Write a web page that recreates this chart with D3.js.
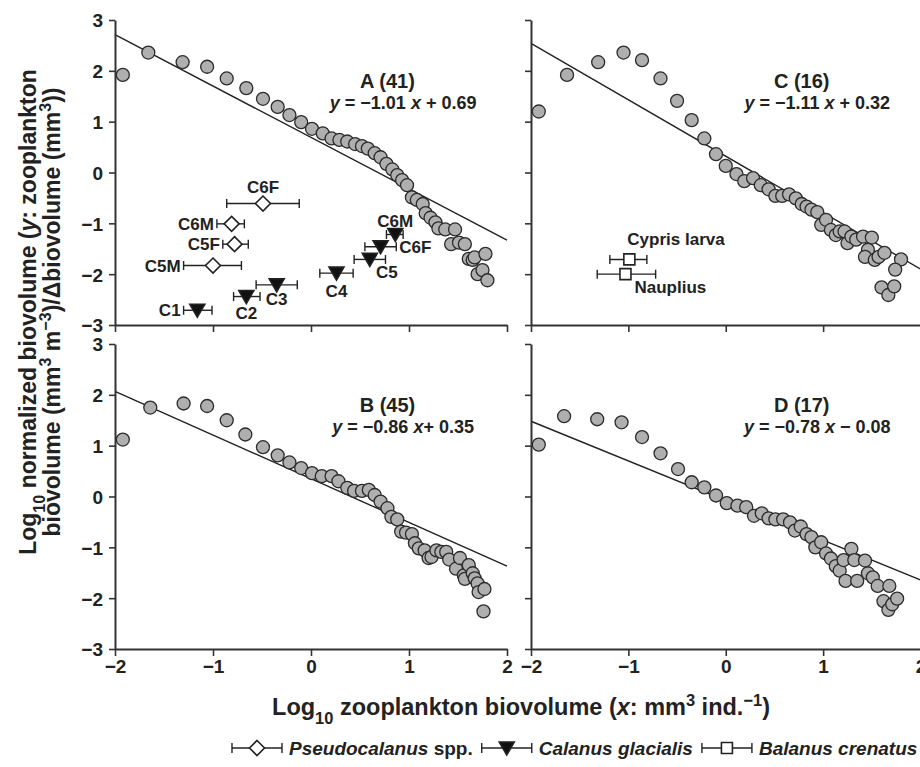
<!DOCTYPE html>
<html>
<head>
<meta charset="utf-8">
<script src="https://cdn.jsdelivr.net/npm/d3@7"></script>
<style>
  body { margin: 0; background: #fff; }
  svg { display: block; font-family: "Liberation Sans", Arial, sans-serif; font-weight: bold; }
</style>
</head>
<body>
<svg id="chart" width="920" height="767"></svg>
<script>
// tick values
const xTicks = [-2, -1, 0, 1, 2]
const yTicks = [-3, -2, -1, 0, 1, 2, 3]

// panel labels and fitted lines
const panelNames = ["A", "B", "C", "D"]
const panelCounts = [41, 45, 16, 17]
const slopes = [-1.01, -0.86, -1.11, -0.78]
const intercepts = [0.69, 0.35, 0.32, -0.08]
const equations = ["y = −1.01 x + 0.69", "y = −0.86 x+ 0.35", "y = −1.11 x + 0.32", "y = −0.78 x − 0.08"]

// normalized biovolume spectra [log10 size, log10 NBV]
const spectrumA = [
  [-1.92, 1.92], [-1.66, 2.36], [-1.31, 2.17], [-1.06, 2.08], [-0.86, 1.85], [-0.66, 1.66],
  [-0.49, 1.45], [-0.34, 1.29], [-0.22, 1.13], [-0.10, 0.99], [0.01, 0.86], [0.12, 0.77],
  [0.21, 0.67], [0.29, 0.64], [0.37, 0.61], [0.45, 0.56], [0.52, 0.52], [0.58, 0.47],
  [0.65, 0.38], [0.71, 0.30], [0.77, 0.17], [0.83, 0.06], [0.88, -0.05], [0.93, -0.15],
  [0.98, -0.25], [1.03, -0.49], [1.08, -0.54], [1.14, -0.62], [1.17, -0.80], [1.22, -0.89],
  [1.27, -0.98], [1.30, -1.10], [1.37, -1.12], [1.47, -1.12], [1.43, -1.41], [1.51, -1.38],
  [1.57, -1.41], [1.61, -1.70], [1.65, -1.72], [1.67, -1.67], [1.78, -1.60], [1.70, -2.00],
  [1.75, -1.92], [1.80, -2.12]
]
const spectrumB = [
  [-1.92, 1.12], [-1.64, 1.75], [-1.30, 1.83], [-1.06, 1.78], [-0.86, 1.50], [-0.67, 1.22],
  [-0.49, 0.97], [-0.34, 0.81], [-0.22, 0.67], [-0.10, 0.56], [0.01, 0.46], [0.11, 0.40],
  [0.21, 0.40], [0.28, 0.30], [0.37, 0.17], [0.44, 0.11], [0.52, 0.11], [0.59, 0.13],
  [0.65, 0.03], [0.71, -0.10], [0.78, -0.23], [0.82, -0.40], [0.88, -0.45], [0.92, -0.69],
  [0.97, -0.71], [1.03, -0.74], [1.06, -0.92], [1.10, -1.02], [1.16, -1.06], [1.20, -1.21],
  [1.23, -1.19], [1.28, -1.06], [1.33, -1.09], [1.38, -1.09], [1.41, -1.24], [1.48, -1.42],
  [1.52, -1.21], [1.56, -1.55], [1.57, -1.62], [1.61, -1.35], [1.65, -1.51], [1.67, -1.61],
  [1.70, -1.71], [1.71, -1.88], [1.77, -1.82], [1.76, -2.26]
]
const spectrumC = [
  [-1.92, 1.20], [-1.63, 1.92], [-1.31, 2.17], [-1.05, 2.36], [-0.86, 2.21], [-0.67, 1.85],
  [-0.50, 1.41], [-0.35, 1.03], [-0.22, 0.67], [-0.10, 0.36], [0.00, 0.13], [0.11, -0.03],
  [0.19, -0.17], [0.28, -0.11], [0.36, -0.25], [0.44, -0.33], [0.51, -0.46], [0.58, -0.46],
  [0.65, -0.43], [0.72, -0.51], [0.78, -0.62], [0.83, -0.67], [0.88, -0.73], [0.94, -0.78],
  [0.98, -1.03], [1.03, -0.93], [1.08, -1.13], [1.13, -1.23], [1.17, -1.16], [1.22, -1.16],
  [1.25, -1.39], [1.29, -1.26], [1.34, -1.32], [1.41, -1.26], [1.50, -1.28], [1.46, -1.52],
  [1.43, -1.66], [1.53, -1.72], [1.57, -1.66], [1.63, -1.58], [1.80, -1.71], [1.74, -1.91],
  [1.60, -2.26], [1.67, -2.41], [1.73, -2.24]
]
const spectrumD = [
  [-1.92, 1.02], [-1.66, 1.58], [-1.32, 1.52], [-1.07, 1.46], [-0.86, 1.17], [-0.67, 0.85],
  [-0.49, 0.54], [-0.35, 0.28], [-0.22, 0.18], [-0.10, 0.02], [0.01, -0.13], [0.12, -0.18],
  [0.21, -0.21], [0.29, -0.38], [0.37, -0.33], [0.44, -0.43], [0.51, -0.45], [0.59, -0.45],
  [0.66, -0.51], [0.71, -0.67], [0.77, -0.59], [0.83, -0.74], [0.88, -0.80], [0.92, -1.00],
  [0.98, -0.90], [1.03, -1.12], [1.08, -1.22], [1.13, -1.37], [1.17, -1.46], [1.23, -1.66],
  [1.21, -1.25], [1.29, -1.03], [1.32, -1.25], [1.35, -1.66], [1.43, -1.26], [1.46, -1.51],
  [1.51, -1.59], [1.56, -1.76], [1.62, -2.06], [1.68, -1.76], [1.67, -2.23], [1.71, -2.12],
  [1.76, -2.01]
]

// Pseudocalanus spp. stages (panel A)
const pseudoStages = ["C5M", "C5F", "C6M", "C6F"]
const pseudoX = [-1.00, -0.78, -0.81, -0.49]
const pseudoY = [-1.83, -1.41, -1.01, -0.61]
const pseudoLo = [-1.30, -0.90, -0.96, -0.86]
const pseudoHi = [-0.71, -0.64, -0.68, -0.12]

// Calanus glacialis stages (panel A)
const calanusStages = ["C1", "C2", "C3", "C4", "C5", "C6F", "C6M"]
const calanusX = [-1.16, -0.66, -0.35, 0.26, 0.60, 0.71, 0.86]
const calanusY = [-2.71, -2.44, -2.21, -1.98, -1.71, -1.46, -1.22]
const calanusLo = [-1.30, -0.79, -0.56, 0.09, 0.44, 0.55, 0.77]
const calanusHi = [-1.01, -0.52, -0.14, 0.43, 0.76, 0.87, 0.94]

// Balanus crenatus stages (panel C)
const balanusStages = ["Cypris larva", "Nauplius"]
const balanusX = [-0.99, -1.03]
const balanusY = [-1.71, -2.00]
const balanusLo = [-1.19, -1.32]
const balanusHi = [-0.81, -0.72]

const svg = d3.select("#chart")
const ink = "#222"

// panel frames
const leftX = [115, 507], rightX = [531, 920.5]
const topY = [325, 20], botY = [649, 344]
const frames = [
  { xr: leftX, yr: topY, pts: spectrumA, xLab: false, yLab: true },
  { xr: leftX, yr: botY, pts: spectrumB, xLab: true, yLab: true },
  { xr: rightX, yr: topY, pts: spectrumC, xLab: false, yLab: false },
  { xr: rightX, yr: botY, pts: spectrumD, xLab: true, yLab: false }
]

// write text with italic / sub / sup parts
function rich(sel, parts) {
  parts.forEach(([s, kind]) => {
    const t = sel.append("tspan").text(s)
    if (kind === "i") t.attr("font-style", "italic")
    if (kind === "sup") t.attr("baseline-shift", "super").attr("font-size", "70%")
    if (kind === "sub") t.attr("baseline-shift", "sub").attr("font-size", "70%")
  })
}

function eqParts(s) {
  return s.split(/([xy])/).filter(d => d !== "").map(d => [d, d === "x" || d === "y" ? "i" : ""])
}

const scales = frames.map((f, i) => {
  const x = d3.scaleLinear().domain([-2, 2]).range(f.xr)
  const y = d3.scaleLinear().domain([-3, 3]).range(f.yr)
  const g = svg.append("g")

  // regression line
  g.append("line")
    .attr("x1", x(-2)).attr("y1", y(slopes[i] * -2 + intercepts[i]))
    .attr("x2", x(2)).attr("y2", y(slopes[i] * 2 + intercepts[i]))
    .attr("stroke", ink).attr("stroke-width", 1.4)

  g.selectAll("circle")
    .data(f.pts)
    .enter()
    .append("circle")
    .attr("cx", d => x(d[0]))
    .attr("cy", d => y(d[1]))
    .attr("r", 6.5)
    .attr("fill", "#afafaf")
    .attr("stroke", "#2b2b2b")
    .attr("stroke-width", 1.3)

  // axes
  const ax = g.append("g")
    .attr("transform", `translate(0,${f.yr[0]})`)
    .call(d3.axisBottom(x).tickValues(xTicks).tickSize(7).tickSizeOuter(0).tickPadding(4)
      .tickFormat(f.xLab ? d3.format("") : ""))
  const ay = g.append("g")
    .attr("transform", `translate(${f.xr[0]},0)`)
    .call(d3.axisLeft(y).tickValues(yTicks).tickSize(6).tickSizeOuter(0).tickPadding(6)
      .tickFormat(f.yLab ? d3.format("") : ""))
  ;[ax, ay].forEach(a => {
    a.select(".domain").attr("stroke", "#333").attr("stroke-width", 2)
    a.selectAll(".tick line").attr("stroke", "#333").attr("stroke-width", 1.6)
    a.selectAll(".tick text").attr("fill", ink).attr("font-size", 19)
      .attr("font-family", "Liberation Sans, Arial, sans-serif").attr("font-weight", "bold")
  })
  ay.selectAll(".tick text").attr("dy", "0.36em")

  // panel title and equation
  const w = f.xr[1] - f.xr[0]
  g.append("text")
    .attr("x", f.xr[0] + w * 0.695).attr("y", f.yr[1] + 68)
    .attr("text-anchor", "middle").attr("font-size", 20).attr("fill", ink)
    .text(`${panelNames[i]} (${panelCounts[i]})`)
  const eq = g.append("text")
    .attr("x", f.xr[0] + w * 0.735).attr("y", f.yr[1] + 89)
    .attr("text-anchor", "middle").attr("font-size", 18).attr("fill", ink)
  rich(eq, eqParts(equations[i]))

  return { x, y, g }
})

// error bar + marker groups
function stageSeries(p, xs, ys, lo, hi, shape, names, place) {
  const { x, y, g } = p
  const grp = g.selectAll(null).data(xs.map((d, i) => i)).enter().append("g")
  grp.append("line")
    .attr("x1", i => x(lo[i])).attr("x2", i => x(hi[i]))
    .attr("y1", i => y(ys[i])).attr("y2", i => y(ys[i]))
    .attr("stroke", ink).attr("stroke-width", 1.4)
  ;["lo", "hi"].forEach(k => {
    grp.append("line")
      .attr("x1", i => x(k === "lo" ? lo[i] : hi[i])).attr("x2", i => x(k === "lo" ? lo[i] : hi[i]))
      .attr("y1", i => y(ys[i]) - 4.5).attr("y2", i => y(ys[i]) + 4.5)
      .attr("stroke", ink).attr("stroke-width", 1.4)
  })
  grp.append("path")
    .attr("transform", i => `translate(${x(xs[i])},${y(ys[i])})`)
    .attr("d", shape.d).attr("fill", shape.fill).attr("stroke", ink).attr("stroke-width", 1.6)
  grp.append("text")
    .attr("x", i => place[i][0] === "start-err" ? x(hi[i]) + place[i][1]
      : place[i][0] === "end-err" ? x(lo[i]) + place[i][1] : x(xs[i]) + place[i][1])
    .attr("y", i => y(ys[i]) + place[i][2])
    .attr("text-anchor", i => place[i][0] === "end-err" ? "end" : place[i][0] === "start-err" ? "start" : place[i][0])
    .attr("font-size", 17).attr("fill", ink)
    .text(i => names[i])
}

const diamond = { d: "M0,-7.5L7.5,0L0,7.5L-7.5,0Z", fill: "#fff" }
const triangle = { d: "M-7.5,-6L7.5,-6L0,7Z", fill: "#111" }
const square = { d: "M-5.5,-5.5H5.5V5.5H-5.5Z", fill: "#fff" }

stageSeries(scales[0], pseudoX, pseudoY, pseudoLo, pseudoHi, diamond, pseudoStages,
  [["end-err", -3, 6], ["end-err", -3, 6], ["end-err", -3, 6], ["middle", 0, -11]])
stageSeries(scales[0], calanusX, calanusY, calanusLo, calanusHi, triangle, calanusStages,
  [["end-err", -3, 6], ["middle", 0, 22], ["middle", 0, 20], ["middle", 0, 24],
   ["middle", 17, 19], ["start-err", 3, 6], ["middle", 0, -8]])
stageSeries(scales[2], balanusX, balanusY, balanusLo, balanusHi, square, balanusStages,
  [["start", -2, -14], ["start", 9, 19]])

// axis titles
rich(svg.append("text").attr("x", 521).attr("y", 715).attr("text-anchor", "middle")
  .attr("font-size", 23.5).attr("fill", ink),
  [["Log", ""], ["10", "sub"], [" zooplankton biovolume (", ""], ["x", "i"], [": mm", ""], ["3", "sup"],
   [" ind.", ""], ["−1", "sup"], [")", ""]])

rich(svg.append("text").attr("transform", "translate(36,312) rotate(-90)").attr("text-anchor", "middle")
  .attr("font-size", 23).attr("fill", ink),
  [["Log", ""], ["10", "sub"], [" normalized biovolume (", ""], ["y", "i"], [": zooplankton", ""]])
rich(svg.append("text").attr("transform", "translate(60,312) rotate(-90)").attr("text-anchor", "middle")
  .attr("font-size", 23).attr("fill", ink),
  [["biovolume (mm", ""], ["3", "sup"], [" m", ""], ["−3", "sup"], [")/Δbiovolume (mm", ""], ["3", "sup"], ["))", ""]])

// legend
const legendItems = [
  { shape: diamond, parts: [["Pseudocalanus", "i"], [" spp.", ""]] },
  { shape: triangle, parts: [["Calanus glacialis", "i"]] },
  { shape: square, parts: [["Balanus crenatus", "i"]] }
]
let lx = 232
const ly = 748
legendItems.forEach(item => {
  const g = svg.append("g")
  g.append("line").attr("x1", lx).attr("x2", lx + 50).attr("y1", ly).attr("y2", ly)
    .attr("stroke", ink).attr("stroke-width", 1.4)
  ;[lx, lx + 50].forEach(cx => g.append("line").attr("x1", cx).attr("x2", cx)
    .attr("y1", ly - 5).attr("y2", ly + 5).attr("stroke", ink).attr("stroke-width", 1.4))
  g.append("path").attr("transform", `translate(${lx + 25},${ly})`).attr("d", item.shape.d)
    .attr("fill", item.shape.fill).attr("stroke", ink).attr("stroke-width", 1.6)
  const t = g.append("text").attr("x", lx + 57).attr("y", ly + 7).attr("font-size", 19).attr("fill", ink)
  rich(t, item.parts)
  lx += 57 + t.node().getComputedTextLength() + 9
})
</script>
</body>
</html>
